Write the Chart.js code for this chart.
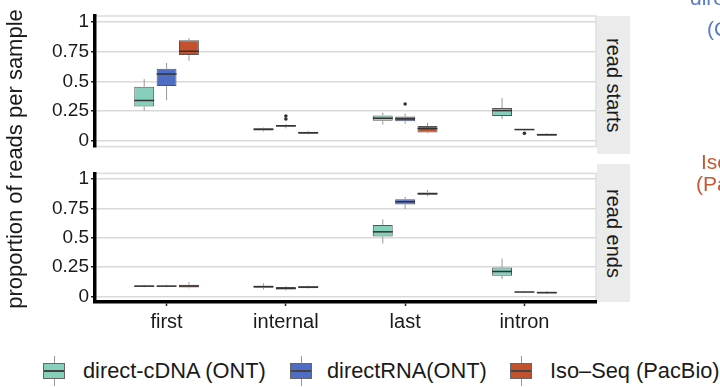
<!DOCTYPE html>
<html>
<head>
<meta charset="utf-8">
<script src="https://cdn.jsdelivr.net/npm/chart.js@4.4.1/dist/chart.umd.min.js"></script>
<style>
  html, body { margin: 0; padding: 0; background: #fff; overflow: hidden; }
  body { width: 720px; height: 388px; position: relative; font-family: "Liberation Sans", Arial, Helvetica, sans-serif; color: #1a1a1a; }
  canvas { position: absolute; left: 0; }
  #topChart { top: 0; }
  #bottomChart { top: 160px; }
  .strip { position: absolute; left: 597px; width: 33px; background: #ebebeb; display: flex; align-items: center; justify-content: center; }
  .strip span { writing-mode: vertical-rl; font-size: 20px; line-height: 20px; white-space: nowrap; }
  .ytitle { position: absolute; left: -145px; top: 147px; width: 320px; height: 24px; line-height: 24px; text-align: center; font-size: 22px; transform: rotate(-90deg); white-space: nowrap; }
  .leg { position: absolute; top: 356px; height: 30px; }
  .glyph { position: absolute; top: 7px; width: 22px; height: 16px; border: 1px solid #666; box-sizing: border-box; }
  .glyph::before { content: ""; position: absolute; left: 0; right: 0; top: 6px; height: 1.5px; background: #444; }
  .whisk { position: absolute; width: 1px; background: #999; }
  .legtext { position: absolute; top: 3px; font-size: 21.8px; line-height: 24px; white-space: nowrap; }
  .frag { position: absolute; font-size: 21px; line-height: 24px; white-space: nowrap; }
</style>
</head>
<body>
<canvas id="topChart" width="720" height="160"></canvas>
<canvas id="bottomChart" width="720" height="190"></canvas>

<div class="strip" style="top:16px;height:138px"><span>read starts</span></div>
<div class="strip" style="top:164px;height:138px"><span>read ends</span></div>
<div class="ytitle">proportion of reads per sample</div>

<div id="legend"></div>

<div class="frag" style="left:690px;top:-14px;color:#5a78cc">direct</div>
<div class="frag" style="left:707px;top:17px;color:#5a78cc">(ONT)</div>
<div class="frag" style="left:701px;top:150px;color:#c45a34">Iso</div>
<div class="frag" style="left:696px;top:172px;color:#c45a34">(PacBio)</div>

<script>
// categories and series
const categories = ["first", "internal", "last", "intron"];
const seriesNames = ["direct-cDNA (ONT)", "directRNA(ONT)", "Iso\u2013Seq (PacBio)"];
const seriesColors = ["#86cfbb", "#506dc6", "#c4512e"];
const yTicks = [0, 0.25, 0.5, 0.75, 1];

// box stats per category: [min, q1, median, q3, max]
// read starts
const startsCdna = [[0.254, 0.288, 0.339, 0.455, 0.518], [0.078, 0.088, 0.097, 0.105, 0.112], [0.137, 0.169, 0.19, 0.214, 0.236], [0.183, 0.209, 0.254, 0.275, 0.36]];
const startsRna  = [[0.341, 0.46, 0.561, 0.606, 0.653], [0.105, 0.118, 0.127, 0.134, 0.14], [0.143, 0.164, 0.185, 0.204, 0.228], [0.088, 0.092, 0.095, 0.097, 0.1]];
const startsIso  = [[0.672, 0.72, 0.752, 0.844, 0.863], [0.056, 0.06, 0.068, 0.077, 0.085], [0.063, 0.071, 0.103, 0.125, 0.151], [0.04, 0.044, 0.052, 0.06, 0.065]];
// read ends
const endsCdna = [[0.078, 0.083, 0.087, 0.092, 0.1], [0.058, 0.074, 0.083, 0.09, 0.111], [0.45, 0.51, 0.55, 0.609, 0.656], [0.148, 0.175, 0.212, 0.246, 0.323]];
const endsRna  = [[0.078, 0.084, 0.087, 0.093, 0.1], [0.05, 0.058, 0.068, 0.079, 0.087], [0.743, 0.783, 0.807, 0.828, 0.849], [0.032, 0.035, 0.037, 0.04, 0.043]];
const endsIso  = [[0.068, 0.075, 0.088, 0.1, 0.121], [0.065, 0.069, 0.079, 0.087, 0.092], [0.855, 0.865, 0.875, 0.886, 0.907], [0.018, 0.024, 0.032, 0.04, 0.047]];

// outliers per category
const startsOutRna = [[], [0.183, 0.209], [0.31], [0.063]];
const noOutliers = [[], [], [], []];

const FONT = "'Liberation Sans', Arial, Helvetica, sans-serif";

function makeDatasets(statsList, outList) {
  return statsList.map((stats, s) => ({
    label: seriesNames[s],
    data: stats.map((b, i) => ({ x: i, y: [b[1], b[3]] })),
    stats: stats,
    outliers: outList[s],
    backgroundColor: seriesColors[s],
    borderColor: "#555",
    borderWidth: 1,
    borderSkipped: false,
    categoryPercentage: 0.5625,
    barPercentage: 0.89,
  }));
}

// whiskers, medians and outliers, placed on the bars that chart.js laid out
const boxPlugin = {
  id: "boxParts",
  afterDatasetsDraw(chart) {
    const ctx = chart.ctx;
    const y = chart.scales.y;
    chart.data.datasets.forEach((ds, d) => {
      const meta = chart.getDatasetMeta(d);
      meta.data.forEach((bar, i) => {
        const b = ds.stats[i];
        const half = bar.width / 2;
        ctx.save();
        ctx.strokeStyle = "#999";
        ctx.lineWidth = 1;
        ctx.beginPath();
        ctx.moveTo(bar.x, y.getPixelForValue(b[4]));
        ctx.lineTo(bar.x, y.getPixelForValue(b[3]));
        ctx.moveTo(bar.x, y.getPixelForValue(b[1]));
        ctx.lineTo(bar.x, y.getPixelForValue(b[0]));
        ctx.stroke();
        ctx.strokeStyle = "#333";
        ctx.lineWidth = 1.5;
        ctx.beginPath();
        ctx.moveTo(bar.x - half, y.getPixelForValue(b[2]));
        ctx.lineTo(bar.x + half, y.getPixelForValue(b[2]));
        ctx.stroke();
        ctx.fillStyle = "#333";
        ds.outliers[i].forEach(v => {
          ctx.beginPath();
          ctx.arc(bar.x, y.getPixelForValue(v), 1.8, 0, Math.PI * 2);
          ctx.fill();
        });
        ctx.restore();
      });
    });
  },
};

// light grey panel frame
const panelPlugin = {
  id: "panelFrame",
  beforeDraw(chart) {
    const a = chart.chartArea;
    const ctx = chart.ctx;
    ctx.save();
    ctx.strokeStyle = "#dcdcdc";
    ctx.lineWidth = 1.5;
    ctx.strokeRect(a.left, a.top, a.right - a.left, a.bottom - a.top);
    ctx.restore();
  },
};

function panelOptions(showX, padding, xHeight) {
  return {
    responsive: false,
    animation: false,
    layout: { padding: padding },
    plugins: { legend: { display: false }, tooltip: { enabled: false } },
    scales: {
      x: {
        type: "linear",
        display: showX,
        offset: false,
        min: -0.6,
        max: 3.6,
        afterBuildTicks: (axis) => { axis.ticks = categories.map((c, i) => ({ value: i })); },
        afterFit: (axis) => { if (xHeight) axis.height = xHeight; },
        ticks: {
          callback: (v) => categories[v],
          font: { family: FONT, size: 20 },
          color: "#1a1a1a",
          padding: 4,
          maxRotation: 0,
        },
        grid: { offset: false, drawOnChartArea: false, drawTicks: true, tickLength: 4, tickColor: "#222", tickWidth: 1.5 },
        border: { display: true, color: "#000", width: 3.5 },
      },
      y: {
        min: -0.048,
        max: 1.048,
        afterBuildTicks: (axis) => { axis.ticks = yTicks.map(v => ({ value: v })); },
        afterFit: (axis) => { axis.width = 95; },
        ticks: {
          callback: (v) => String(v),
          font: { family: FONT, size: 19 },
          color: "#1a1a1a",
          padding: 2,
        },
        grid: { color: "#d9d9d9", lineWidth: 1.5, tickLength: 4, tickColor: "#222", tickWidth: 1.5 },
        border: { display: true, color: "#000", width: 3.5 },
      },
    },
  };
}

new Chart(document.getElementById("topChart").getContext("2d"), {
  type: "bar",
  data: { datasets: makeDatasets([startsCdna, startsRna, startsIso], [noOutliers, startsOutRna, noOutliers]) },
  options: panelOptions(false, { top: 16, right: 124, bottom: 6, left: 0 }, 0),
  plugins: [panelPlugin, boxPlugin],
});

new Chart(document.getElementById("bottomChart").getContext("2d"), {
  type: "bar",
  data: { datasets: makeDatasets([endsCdna, endsRna, endsIso], [noOutliers, noOutliers, noOutliers]) },
  options: panelOptions(true, { top: 4, right: 124, bottom: 0, left: 0 }, 48),
  plugins: [panelPlugin, boxPlugin],
});

// legend with small box glyphs
const legendPos = [[43, 83], [290, 327], [510, 550]];
const legend = document.getElementById("legend");
seriesNames.forEach((name, s) => {
  const [gx, tx] = legendPos[s];
  const item = document.createElement("div");
  item.className = "leg";
  item.style.left = "0px";
  item.innerHTML =
    `<div class="whisk" style="left:${gx + 11}px;top:0px;height:7px"></div>` +
    `<div class="glyph" style="left:${gx}px;background:${seriesColors[s]}"></div>` +
    `<div class="whisk" style="left:${gx + 11}px;top:23px;height:7px"></div>` +
    `<div class="legtext" style="left:${tx}px">${name}</div>`;
  legend.appendChild(item);
});
</script>
</body>
</html>
